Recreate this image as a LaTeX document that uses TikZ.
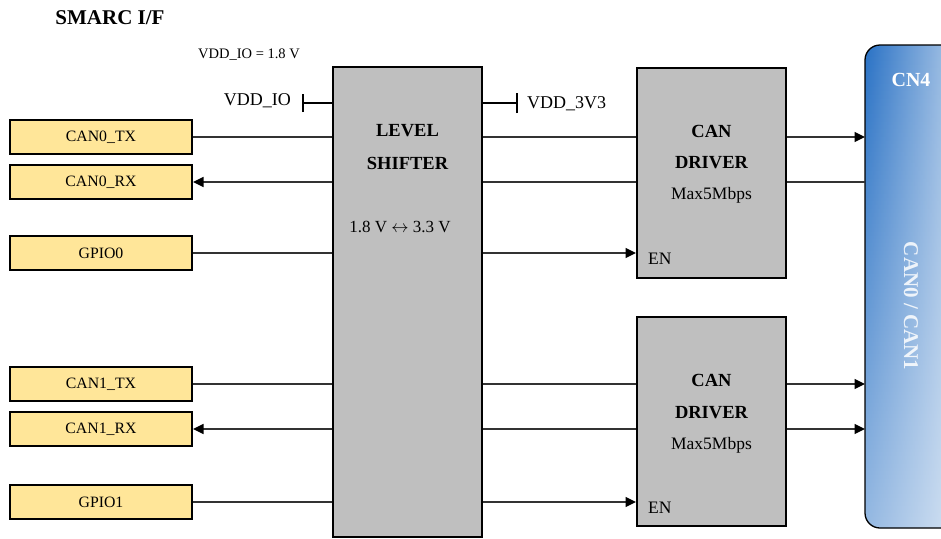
\documentclass[tikz,border=0pt]{standalone}
\usepackage{fontspec}
\setmainfont{Liberation Serif}
\usetikzlibrary{arrows.meta,fadings}
\definecolor{sigfill}{HTML}{FFE699}
\definecolor{blockfill}{HTML}{BFBFBF}
\definecolor{wire}{HTML}{333333}
\definecolor{cnA}{HTML}{2A72C5}
\definecolor{cnB}{HTML}{B3CCE9}
\tikzset{
  sigbox/.style={draw=black, line width=2pt, fill=sigfill, minimum width=182pt, minimum height=34pt, inner sep=0pt, font=\fontsize{15.8}{17}\selectfont},
  block/.style={draw=black, line width=2pt, fill=blockfill, inner sep=0pt},
  wireline/.style={draw=wire, line width=1.4pt},
  arr/.style={wireline, -{Triangle[length=10.5pt,width=10pt,fill=black,color=black]}},
  boldlbl/.style={font=\fontsize{18.5}{20}\selectfont\bfseries, inner sep=0pt},
  plainlbl/.style={font=\fontsize{17.5}{19}\selectfont, inner sep=0pt},
  tick/.style={draw=black, line width=2.2pt},
}
\begin{document}
\begin{tikzpicture}[x=1pt,y=-1pt]
\useasboundingbox (0,0) rectangle (941,538);

% title
\node[font=\fontsize{21}{23}\selectfont\bfseries, inner sep=0pt] (title) at (110,18) {SMARC I/F};
\node[font=\fontsize{14.5}{16}\selectfont, inner sep=0pt, anchor=west] (vddioeq) at (198,55) {VDD\_IO = 1.8 V};

% left signal boxes
\node[sigbox] (can0tx) at (101,137) {CAN0\_TX};
\node[sigbox] (can0rx) at (101,182) {CAN0\_RX};
\node[sigbox] (gpio0)  at (101,253) {GPIO0};
\node[sigbox] (can1tx) at (101,384) {CAN1\_TX};
\node[sigbox] (can1rx) at (101,429) {CAN1\_RX};
\node[sigbox] (gpio1)  at (101,502) {GPIO1};

% level shifter
\node[block, minimum width=149pt, minimum height=470pt] (ls) at (407.5,302) {};
\node[boldlbl] (lslevel) at (407.5,131) {LEVEL};
\node[boldlbl] (lsshift) at (407.5,163) {SHIFTER};
\node[font=\fontsize{17}{19}\selectfont, inner sep=0pt] (lsvolt) at (400,227) {1.8 V $\leftrightarrow$ 3.3 V};

% CAN drivers
\node[block, minimum width=149pt, minimum height=210pt] (drv0) at (711.5,173) {};
\node[boldlbl] (drv0a) at (711.5,131) {CAN};
\node[boldlbl] (drv0b) at (711.5,163) {DRIVER};
\node[plainlbl] (drv0c) at (711.5,195) {Max5Mbps};
\node[plainlbl, anchor=west] (drv0en) at (648,259) {EN};

\node[block, minimum width=149pt, minimum height=209pt] (drv1) at (711.5,421.5) {};
\node[boldlbl] (drv1a) at (711.5,380) {CAN};
\node[boldlbl] (drv1b) at (711.5,413) {DRIVER};
\node[plainlbl] (drv1c) at (711.5,445) {Max5Mbps};
\node[plainlbl, anchor=west] (drv1en) at (648,508) {EN};

% CN4 connector
\shade[left color=cnA, right color=cnB, rounded corners=15pt] (865,45) rectangle (962,528);
\fill[white, fill opacity=0.5, path fading=north, rounded corners=15pt] (865,45) rectangle (962,528);
\draw[black, line width=1.3pt, rounded corners=15pt] (865,45) rectangle (962,528);
\coordinate (cnw) at (865,300);
\node[font=\fontsize{20}{22}\selectfont\bfseries, text=white, inner sep=0pt] (cn4) at (911,80) {CN4};
\node[font=\fontsize{21}{23}\selectfont\bfseries, text=white, text opacity=0.85, inner sep=0pt, rotate=-90] (cnname) at (911,306) {CAN0 / CAN1};

% power ticks
\node[font=\fontsize{18}{20}\selectfont, inner sep=0pt, anchor=east] (vddio) at (291,101) {VDD\_IO};
\coordinate (vddiobar) at (303,103);
\draw[tick] (vddiobar) -- (ls.west |- vddiobar);
\draw[tick] ([yshift=-9pt]vddiobar) -- ([yshift=9pt]vddiobar);
\coordinate (v33bar) at (517,103);
\draw[tick] (ls.east |- v33bar) -- (v33bar);
\draw[tick] ([yshift=-10pt]v33bar) -- ([yshift=10pt]v33bar);
\node[font=\fontsize{18}{20}\selectfont, inner sep=0pt, anchor=west] (vdd3v3) at (527,104) {VDD\_3V3};

% left wires
\draw[wireline] (can0tx.east) -- (ls.west |- can0tx.east);
\draw[arr] (ls.west |- can0rx.east) -- (can0rx.east);
\draw[wireline] (gpio0.east) -- (ls.west |- gpio0.east);
\draw[wireline] (can1tx.east) -- (ls.west |- can1tx.east);
\draw[arr] (ls.west |- can1rx.east) -- (can1rx.east);
\draw[wireline] (gpio1.east) -- (ls.west |- gpio1.east);

% shifter to drivers
\draw[wireline] (ls.east |- can0tx.east) -- (drv0.west |- can0tx.east);
\draw[wireline] (ls.east |- can0rx.east) -- (drv0.west |- can0rx.east);
\draw[arr] (ls.east |- gpio0.east) -- (drv0.west |- gpio0.east);
\draw[wireline] (ls.east |- can1tx.east) -- (drv1.west |- can1tx.east);
\draw[wireline] (ls.east |- can1rx.east) -- (drv1.west |- can1rx.east);
\draw[arr] (ls.east |- gpio1.east) -- (drv1.west |- gpio1.east);

% drivers to connector
\draw[arr] (drv0.east |- can0tx.east) -- (cnw |- can0tx.east);
\draw[wireline] (drv0.east |- can0rx.east) -- (cnw |- can0rx.east);
\draw[arr] (drv1.east |- can1tx.east) -- (cnw |- can1tx.east);
\draw[arr] (drv1.east |- can1rx.east) -- (cnw |- can1rx.east);
\end{tikzpicture}
\end{document}
